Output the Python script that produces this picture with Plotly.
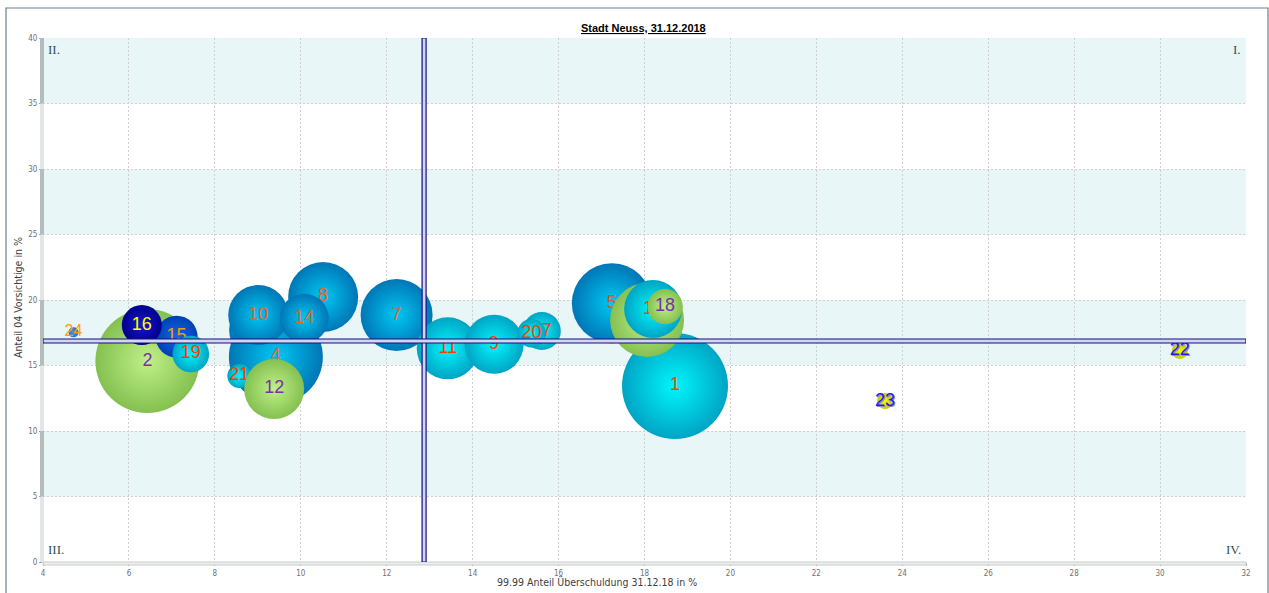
import plotly.graph_objects as go

# ---- data ----
ids = ["1", "2", "3", "4", "5", "6", "7", "8", "9", "10", "11", "12",
       "13", "14", "15", "16", "17", "18", "19", "20", "21", "22", "23", "24"]
ueberschuldung = [18.71, 6.43, 9.10, 9.42, 17.24, 18.06, 12.23, 10.52, 14.50, 9.01, 13.42, 9.38,
                  18.20, 10.08, 7.11, 6.30, 15.61, 18.48, 7.44, 15.37, 8.57, 30.46, 23.60, 4.71]
vorsichtige = [13.44, 15.34, 17.71, 15.65, 19.75, 18.47, 18.85, 20.23, 16.62, 18.85, 16.31, 13.21,
               19.31, 18.60, 17.20, 18.09, 17.63, 19.49, 15.88, 17.46, 14.20, 16.11, 12.29, 17.53]
blasenwert = [2809, 2704, 1089, 2209, 1600, 1369, 1296, 1225, 870, 900, 961, 900,
              841, 600, 441, 400, 361, 313, 335, 202, 144, 64, 64, 25]
farbgruppe = ["cyan", "green", "blue", "blue", "blue", "green", "blue", "blue", "cyan", "blue",
              "cyan", "green", "cyan", "blue", "royal", "navy", "cyan", "green", "cyan", "cyan",
              "cyan", "yellow", "yellow", "light"]
zeichenfolge = ["1", "2", "3", "4", "5", "6", "7", "8", "11", "9", "10", "13", "14", "21", "12",
                "15", "16", "17", "19", "18", "20", "24", "22", "23"]
schwelle_x = 12.87
schwelle_y = 16.87
x_ticks = [4, 6, 8, 10, 12, 14, 16, 18, 20, 22, 24, 26, 28, 30, 32]
y_ticks = [0, 5, 10, 15, 20, 25, 30, 35, 40]
baender = [(5, 10), (15, 20), (25, 30), (35, 40)]
titel = "Stadt Neuss, 31.12.2018"
x_titel = "99.99 Anteil Überschuldung 31.12.18 in %"
y_titel = "Anteil 04 Vorsichtige in %"

# ---- styles ----
palette = {
    "cyan": ("#00a4c4", "#00f6fc"),
    "blue": ("#0076b6", "#00c8f2"),
    "green": ("#84c050", "#c0f088"),
    "navy": ("#00008e", "#1818cc"),
    "royal": ("#0040b4", "#1068e4"),
    "light": ("#2070d0", "#40a0f0"),
    "yellow": ("#c8c800", "#f8f800"),
}
textcol = {
    "1": "#ff3c00", "2": "#7a2ea8", "3": "#ff3c00", "4": "#f06020", "5": "#ff4a10", "6": "#7a2ea8",
    "7": "#f06020", "8": "#f06020", "9": "#ff3c00", "10": "#f06020", "11": "#ff3c00",
    "12": "#7a2ea8", "13": "#ff3c00", "14": "#f06020", "15": "#f0a000", "16": "#ffff00",
    "17": "#ff3c00", "18": "#7a2ea8", "19": "#ff3c00", "20": "#ff3c00", "21": "#ff3c00",
    "22": "#1a1aff", "23": "#1a1aff", "24": "#ffa000",
}

fig = go.Figure()
for lab in zeichenfolge:
    i = ids.index(lab)
    edge, center = palette[farbgruppe[i]]
    tf = dict(family="Liberation Sans, Arial", size=18, color=textcol[lab])
    if lab in ("22", "23"):
        tf["shadow"] = "1px 1px 0px #9090b0"
    if lab == "24":
        tf["size"] = 16
    fig.add_trace(go.Scatter(
        x=[ueberschuldung[i]], y=[vorsichtige[i]],
        mode="markers+text", text=[lab], textposition="middle center",
        textfont=tf,
        marker=dict(size=[blasenwert[i]], sizemode="area", sizeref=0.5,
                    color=edge, gradient=dict(type="radial", color=center),
                    line=dict(width=0), opacity=1),
        showlegend=False, hoverinfo="text",
    ))

shapes = []
for (a, b) in baender:
    shapes.append(dict(type="rect", xref="x", yref="y", x0=4, x1=32, y0=a, y1=b,
                       fillcolor="#e8f6f8", line=dict(width=0), layer="below"))
# left wall (paper refs so it is not clipped)
for v0 in range(0, 40, 5):
    band = any(a == v0 for a, _ in baender)
    shapes.append(dict(type="rect", xref="paper", yref="y", xsizemode="pixel", xanchor=0,
                       x0=-3, x1=1, y0=v0, y1=v0 + 5,
                       fillcolor="#b4bcbc" if band else "#e2e6e6", line=dict(width=0), layer="above"))
# floor
shapes.append(dict(type="rect", xref="paper", yref="paper", ysizemode="pixel", yanchor=0,
                   x0=0, x1=1, y0=-3, y1=0, fillcolor="#eceeee",
                   line=dict(color="#c8cccc", width=1), layer="above"))
# quadrant lines
shapes.append(dict(type="rect", xref="x", yref="y", xsizemode="pixel", xanchor=schwelle_x,
                   x0=-2, x1=2, y0=0, y1=40, fillcolor="#d4d4f4",
                   line=dict(color="#10107a", width=1.2), layer="above"))
shapes.append(dict(type="rect", xref="x", yref="y", ysizemode="pixel", yanchor=schwelle_y,
                   x0=4, x1=32, y0=-2, y1=2, fillcolor="#d4d4f4",
                   line=dict(color="#10107a", width=1.2), layer="above"))
# outer frame
shapes.append(dict(type="rect", xref="paper", yref="paper",
                   x0=(6 - 43) / 1203, x1=(1268 - 43) / 1203,
                   y0=(562 - 600) / 524, y1=(562 - 8) / 524,
                   line=dict(color="#6c7e8c", width=1.2), fillcolor="rgba(0,0,0,0)", layer="below"))

corner_font = dict(family="Liberation Serif, DejaVu Serif", size=13, color="#2f5252")
annotations = [
    dict(text="II.", xref="x", yref="y", x=4, y=40, xanchor="left", yanchor="top",
         xshift=3, yshift=-2, showarrow=False, font=corner_font),
    dict(text="I.", xref="x", yref="y", x=32, y=40, xanchor="right", yanchor="top",
         xshift=-3, yshift=-2, showarrow=False, font=corner_font),
    dict(text="III.", xref="x", yref="y", x=4, y=0, xanchor="left", yanchor="bottom",
         xshift=3, yshift=3, showarrow=False, font=corner_font),
    dict(text="IV.", xref="x", yref="y", x=32, y=0, xanchor="right", yanchor="bottom",
         xshift=-3, yshift=3, showarrow=False, font=corner_font),
    dict(text=x_titel, xref="paper", yref="paper", x=(597 - 43) / 1203, y=(562 - 582) / 524,
         xanchor="center", yanchor="middle", showarrow=False,
         font=dict(family="DejaVu Sans Condensed, DejaVu Sans", size=10.5, color="#404040")),
    dict(text=y_titel, xref="paper", yref="paper", x=(18 - 43) / 1203, y=(562 - 298) / 524,
         xanchor="center", yanchor="middle", showarrow=False, textangle=-90,
         font=dict(family="DejaVu Sans Condensed, DejaVu Sans", size=10.5, color="#404040")),
    dict(text="<b><u>" + titel + "</u></b>", xref="paper", yref="paper",
         x=(643 - 43) / 1203, y=(562 - 28) / 524, xanchor="center", yanchor="middle",
         showarrow=False, font=dict(family="Liberation Sans, Arial", size=11, color="#000000")),
]

axis_common = dict(showgrid=True, gridcolor="#cfcfcf", gridwidth=1, griddash="2px,2px",
                   zeroline=False, ticks="outside", ticklen=3, tickcolor="#a0a0a0",
                   tickfont=dict(family="DejaVu Sans Condensed, DejaVu Sans", size=8, color="#707070"),
                   showline=False, fixedrange=True)

fig.update_layout(
    width=1269, height=593,
    margin=dict(l=43, r=23, t=38, b=31),
    paper_bgcolor="white", plot_bgcolor="white",
    xaxis=dict(range=[4, 32], tickvals=x_ticks, **axis_common),
    yaxis=dict(range=[0, 40], tickvals=y_ticks, **axis_common),
    shapes=shapes, annotations=annotations,
    showlegend=False,
)

fig.write_html("out.html", config={"displayModeBar": False},
               post_script="document.body.style.margin='0';document.body.style.padding='0';")
